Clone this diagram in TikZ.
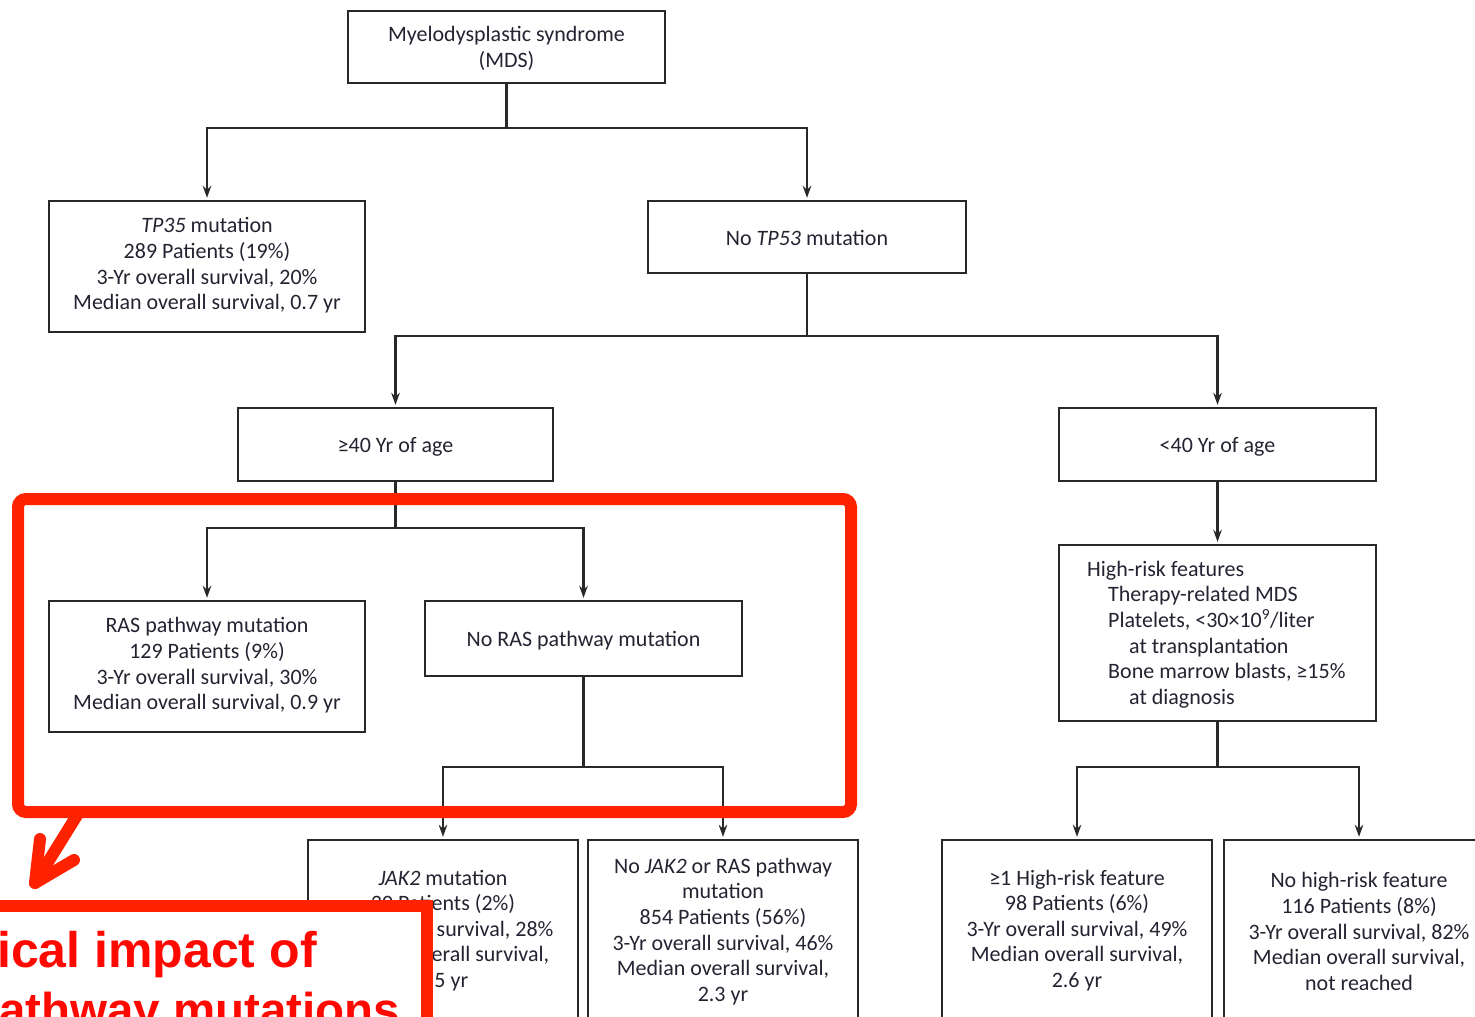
\documentclass[tikz,border=0pt]{standalone}
\usepackage{fontspec}
\setmainfont{Carlito}
\newfontfamily\redfont{Liberation Sans}
\usetikzlibrary{arrows.meta}
\definecolor{txtc}{RGB}{35,35,50}
\definecolor{linec}{RGB}{40,40,40}
\definecolor{hl}{RGB}{255,34,0}
\definecolor{hltext}{RGB}{255,8,0}
\tikzset{
  box/.style={draw=linec, line width=2.3pt, inner sep=0pt},
  txt/.style={font=\fontsize{22}{25.6}\selectfont, text=txtc, align=center, inner sep=0pt},
  conn/.style={draw=linec, line width=2.1pt},
  arr/.style={conn, -{Stealth[length=12pt,width=8.5pt]}, shorten >=2pt},
  hlbox/.style={draw=hl, line width=12pt, rounded corners=8pt, inner sep=0pt},
  hlarrow/.style={draw=hl, line width=12pt, line cap=round, line join=round},
  hltxt/.style={font=\redfont\bfseries\fontsize{50}{57.5}\selectfont, text=hltext, inner sep=0pt},
}
\begin{document}
\begin{tikzpicture}[x=1pt,y=-1pt]
\useasboundingbox (0,0) rectangle (1475,1017);
\clip (0,0) rectangle (1475,1017);

% ---------- boxes ----------
\node[box, minimum width=317pt, minimum height=72pt]  (mds)   at (506.5,47)  {};
\node[box, minimum width=316pt, minimum height=131pt] (tp53)  at (207,266.5) {};
\node[box, minimum width=318pt, minimum height=72pt]  (notp)  at (807,237)   {};
\node[box, minimum width=315pt, minimum height=73pt]  (ge40)  at (395.5,444.5) {};
\node[box, minimum width=317pt, minimum height=73pt]  (lt40)  at (1217.5,444.5) {};
\node[box, minimum width=316pt, minimum height=131pt] (ras)   at (207,666.5) {};
\node[box, minimum width=317pt, minimum height=75pt]  (noras) at (583.5,638.5) {};
\node[box, minimum width=317pt, minimum height=176pt] (hr)    at (1217.5,633) {};
\node[box, minimum width=270pt, minimum height=230pt] (jak)   at (443,955)  {};
\node[box, minimum width=270pt, minimum height=230pt] (nojak) at (723,955)  {};
\node[box, minimum width=270pt, minimum height=230pt] (hr1)   at (1077,955) {};
\node[box, minimum width=270pt, minimum height=230pt] (nohr)  at (1359,955) {};

% ---------- texts ----------
\node[txt] (mdst) at (506.5,48.5) {Myelodysplastic syndrome\\(MDS)};
\node[txt] (tp53t) at (207,265.5) {\textit{TP35} mutation\\289 Patients (19\%)\\3-Yr overall survival, 20\%\\Median overall survival, 0.7 yr};
\node[txt] (notpt) at (807,238) {No \textit{TP53} mutation};
\node[txt] (ge40t) at (395.5,446.5) {≥40 Yr of age};
\node[txt] (lt40t) at (1217.5,446.5) {<40 Yr of age};
\node[txt] (rast) at (207,665.5) {RAS pathway mutation\\129 Patients (9\%)\\3-Yr overall survival, 30\%\\Median overall survival, 0.9 yr};
\node[txt] (norast) at (583.5,641) {No RAS pathway mutation};
\node[txt, align=left, anchor=west] (hrt) at (1087,634.5) {High-risk features\\
\hspace*{21pt}Therapy-related MDS\\
\hspace*{21pt}Platelets, <30×10\textsuperscript{9}/liter\\
\hspace*{42pt}at transplantation\\
\hspace*{21pt}Bone marrow blasts, ≥15\%\\
\hspace*{42pt}at diagnosis};
\node[txt] (jakt) at (443,930.5) {\textit{JAK2} mutation\\30 Patients (2\%)\\3-Yr overall survival, 28\%\\Median overall survival,\\0.5 yr};
\node[txt] (nojakt) at (723,931.5) {No \textit{JAK2} or RAS pathway\\mutation\\854 Patients (56\%)\\3-Yr overall survival, 46\%\\Median overall survival,\\2.3 yr};
\node[txt] (hr1t) at (1077,930.5) {≥1 High-risk feature\\98 Patients (6\%)\\3-Yr overall survival, 49\%\\Median overall survival,\\2.6 yr};
\node[txt] (nohrt) at (1359,931.5) {No high-risk feature\\116 Patients (8\%)\\3-Yr overall survival, 82\%\\Median overall survival,\\not reached};

% ---------- connectors ----------
\coordinate (j1) at (506.5,128);
\coordinate (j2) at (807,336);
\coordinate (j3) at (395.5,528);
\coordinate (j4) at (583.5,767);
\coordinate (j5) at (1217.5,767);
\draw[conn] (mds.south) -- (j1);
\draw[arr] (j1) -| (tp53.north);
\draw[arr] (j1) -| (notp.north);
\draw[conn] (notp.south) -- (j2);
\draw[arr] (j2) -| (ge40.north);
\draw[arr] (j2) -| (lt40.north);
\draw[conn] (ge40.south) -- (j3);
\draw[arr] (j3) -| (ras.north);
\draw[arr] (j3) -| (noras.north);
\draw[conn] (noras.south) -- (j4);
\draw[arr] (j4) -| (jak.north);
\draw[arr] (j4) -| (nojak.north);
\draw[arr] (lt40.south) -- (hr.north);
\draw[conn] (hr.south) -- (j5);
\draw[arr] (j5) -| (hr1.north);
\draw[arr] (j5) -| (nohr.north);

% ---------- highlight overlay ----------
\node[hlbox, minimum width=833pt, minimum height=313pt] (focus) at (434.5,655.5) {};
\coordinate (ashaft) at (79,812);
\coordinate (atip) at (35,883);
\coordinate (arm1) at (40,839);
\coordinate (arm2) at (74,860);
\draw[hlarrow] (ashaft) -- (atip);
\draw[hlarrow] (arm1) -- (atip) -- (arm2);
\node[draw=hl, line width=12pt, fill=white, inner sep=0pt, minimum width=467pt, minimum height=150pt] (callout) at (193.5,981) {};
\node[hltxt, anchor=base west] (cl1) at (-3,967) {ical impact of};
\node[hltxt, font=\redfont\bfseries\fontsize{47.5}{55}\selectfont, anchor=base west] (cl2) at (-1,1026) {athway mutations};
\end{tikzpicture}
\end{document}
